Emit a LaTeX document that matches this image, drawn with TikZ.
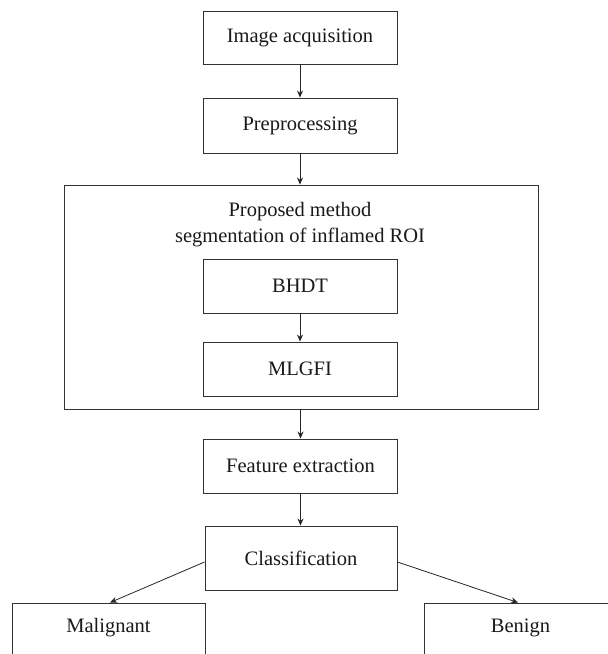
\documentclass[tikz,border=0pt]{standalone}
\usepackage{fontspec}
\setmainfont{Liberation Serif}
\usetikzlibrary{arrows.meta}
\begin{document}
\begin{tikzpicture}[x=1pt,y=-1pt,
  every node/.style={font=\fontsize{20.5}{26}\selectfont, text=black!90},
  box/.style={draw=black!80, line width=0.9pt, minimum width=194pt, minimum height=54pt, inner sep=0pt, anchor=center},
  conn/.style={draw=black!85, line width=0.8pt, -{Stealth[length=7pt,width=6pt]}}]
\useasboundingbox (0,0) rectangle (608,654);
\clip (0,0) rectangle (608,654);
\node[box, minimum height=53pt] (acq) at (300,37.5) {Image acquisition};
\node[box, minimum height=55pt] (pre) at (300,125.5) {Preprocessing};
\node[box, minimum width=474pt, minimum height=224pt] (big) at (301,297) {};
\node[align=center] (title) at (300,225) {Proposed method\\segmentation of inflamed ROI};
\node[box] (bhdt) at (300,286) {BHDT};
\node[box] (mlgfi) at (300,369) {MLGFI};
\node[box] (feat) at (300.5,466) {Feature extraction};
\node[box, minimum width=192pt, minimum height=64pt] (cls) at (301,558) {Classification};
\node[box, minimum width=193pt, minimum height=56pt] (mal) at (108.5,631) {};
\node (maltext) at (108.5,628) {Malignant};
\node[box, minimum width=193pt, minimum height=56pt] (ben) at (520.5,631) {};
\node (bentext) at (520.5,628) {Benign};
\draw[conn] (acq.south) -- (pre.north);
\draw[conn] (pre.south) -- (pre.south |- big.north);
\draw[conn] (bhdt.south) -- (mlgfi.north);
\draw[conn] (big.south -| feat.north) -- (feat.north);
\draw[conn] (feat.south) -- (feat.south |- cls.north);
\draw[conn] ([yshift=-4pt]cls.west) -- ([xshift=1.5pt]mal.north);
\draw[conn] ([yshift=-4pt]cls.east) -- ([xshift=-2.5pt]ben.north);
\end{tikzpicture}
\end{document}
